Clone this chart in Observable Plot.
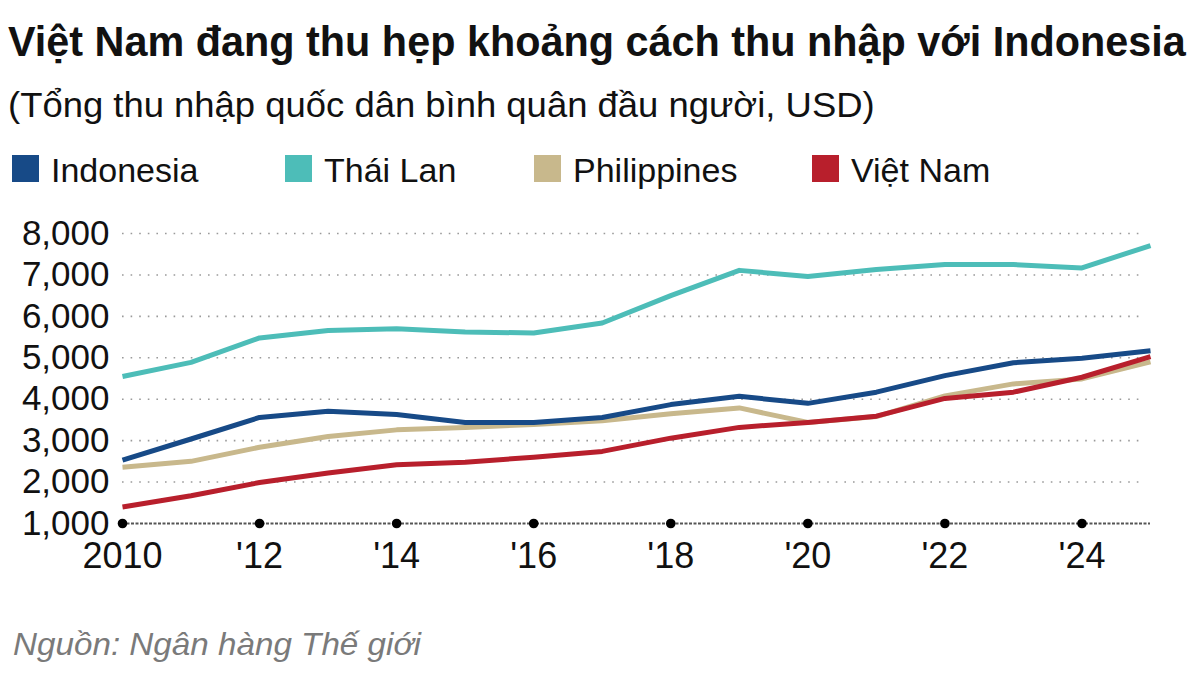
<!DOCTYPE html>
<html>
<head>
<meta charset="utf-8">
<script src="https://cdn.jsdelivr.net/npm/d3@7"></script>
<script src="https://cdn.jsdelivr.net/npm/@observablehq/plot@0.6"></script>
<style>
  html, body { margin: 0; padding: 0; background: #fff; }
  body { width: 1200px; height: 675px; overflow: hidden; font-family: "Liberation Sans", Arial, sans-serif; }
  svg { display: block; }
</style>
</head>
<body>
<svg id="header" width="1200" height="200"></svg>
<div id="chart"></div>
<svg id="footer" width="1200" height="65"></svg>
<script>
// ---- data ----
const years = [2010, 2011, 2012, 2013, 2014, 2015, 2016, 2017, 2018, 2019, 2020, 2021, 2022, 2023, 2024, 2025];
const indonesia   = [2530, 3040, 3560, 3710, 3630, 3440, 3440, 3560, 3870, 4070, 3900, 4170, 4570, 4880, 4990, 5170];
const thaiLan     = [4550, 4890, 5480, 5660, 5700, 5620, 5600, 5840, 6500, 7110, 6960, 7130, 7250, 7250, 7170, 7710];
const philippines = [2360, 2500, 2840, 3100, 3260, 3320, 3390, 3480, 3650, 3790, 3440, 3580, 4080, 4370, 4490, 4900];
const vietNam     = [1400, 1670, 1990, 2220, 2420, 2480, 2600, 2740, 3060, 3320, 3440, 3590, 4020, 4170, 4530, 5030];
const seriesNames = ["Indonesia", "Thái Lan", "Philippines", "Việt Nam"];
const seriesColors = ["#174a87", "#4dbdb8", "#c8b88c", "#b81f2c"];
const yTicks = [1000, 2000, 3000, 4000, 5000, 6000, 7000, 8000];
const xTicks = [2010, 2012, 2014, 2016, 2018, 2020, 2022, 2024];
const xTickLabels = ["2010", "'12", "'14", "'16", "'18", "'20", "'22", "'24"];

const titleText = "Việt Nam đang thu hẹp khoảng cách thu nhập với Indonesia";
const subtitleText = "(Tổng thu nhập quốc dân bình quân đầu người, USD)";
const sourceText = "Nguồn: Ngân hàng Thế giới";

// ---- table ----
const valuesBySeries = [indonesia, thaiLan, philippines, vietNam];
const drawOrder = ["Thái Lan", "Philippines", "Indonesia", "Việt Nam"];
const table = [];
for (const name of drawOrder) {
  const vals = valuesBySeries[seriesNames.indexOf(name)];
  years.forEach((yr, i) => table.push({year: yr, value: vals[i], series: name}));
}

// ---- header ----
const NS = "http://www.w3.org/2000/svg";
function addText(svg, x, y, str, attrs, fitWidth) {
  const t = document.createElementNS(NS, "text");
  t.setAttribute("x", 0); t.setAttribute("y", 0);
  for (const k in attrs) t.setAttribute(k, attrs[k]);
  t.textContent = str;
  svg.appendChild(t);
  let sx = 1;
  if (fitWidth) {
    const w = t.getComputedTextLength();
    if (w > 0) sx = fitWidth / w;
  }
  t.setAttribute("transform", `translate(${x},${y}) scale(${sx},1)`);
  return t;
}
const header = document.getElementById("header");
addText(header, 8, 56, titleText, {"font-size": 43, "font-weight": "bold", fill: "#111"}, 1178);
addText(header, 8, 117, subtitleText, {"font-size": 35, fill: "#111"}, 867);
const legendX = [12, 285, 534, 812];
seriesNames.forEach((name, i) => {
  const r = document.createElementNS(NS, "rect");
  r.setAttribute("x", legendX[i]); r.setAttribute("y", 155);
  r.setAttribute("width", 27); r.setAttribute("height", 27);
  r.setAttribute("fill", seriesColors[i]);
  header.appendChild(r);
  addText(header, legendX[i] + 39, 182, name, {"font-size": 34, fill: "#111"});
});

// ---- chart ----
const chart = Plot.plot({
  width: 1200,
  height: 410,
  marginTop: 33,
  marginBottom: 87,
  marginLeft: 122,
  marginRight: 50,
  style: {fontFamily: "'Liberation Sans', Arial, sans-serif", color: "#111", background: "#fff"},
  x: {domain: [2010, 2025], ticks: xTicks, tickFormat: d => xTickLabels[xTicks.indexOf(d)], label: null},
  y: {domain: [1000, 8000], ticks: yTicks, tickFormat: d3.format(","), label: null},
  color: {domain: seriesNames, range: seriesColors},
  marks: [
    Plot.ruleY(yTicks.slice(1), {x1: 2010, x2: 2024.9, stroke: "#9a9a9a", strokeWidth: 1.6, strokeDasharray: "1.6 7"}),
    Plot.axisY({ticks: yTicks, tickFormat: d3.format(","), tickSize: 0, tickPadding: 13, fontSize: 35, label: null}),
    Plot.axisX({ticks: xTicks, tickFormat: d => xTickLabels[xTicks.indexOf(d)], tickSize: 0, tickPadding: 19, fontSize: 36, label: null}),
    Plot.ruleY([1000], {x1: 2010, x2: 2025, stroke: "#555", strokeWidth: 2.2, strokeDasharray: "3 1.5"}),
    Plot.dot(xTicks, {x: d => d, y: 1000, r: 4.8, fill: "#000", stroke: "none"}),
    Plot.line(table, {x: "year", y: "value", z: "series", stroke: "series", strokeWidth: 5, strokeLinejoin: "round", strokeLinecap: "butt"})
  ]
});
document.getElementById("chart").appendChild(chart);

// ---- footer ----
const footer = document.getElementById("footer");
addText(footer, 13, 45, sourceText, {"font-size": 32, "font-style": "italic", fill: "#7a7a7a"}, 408);
</script>
</body>
</html>
